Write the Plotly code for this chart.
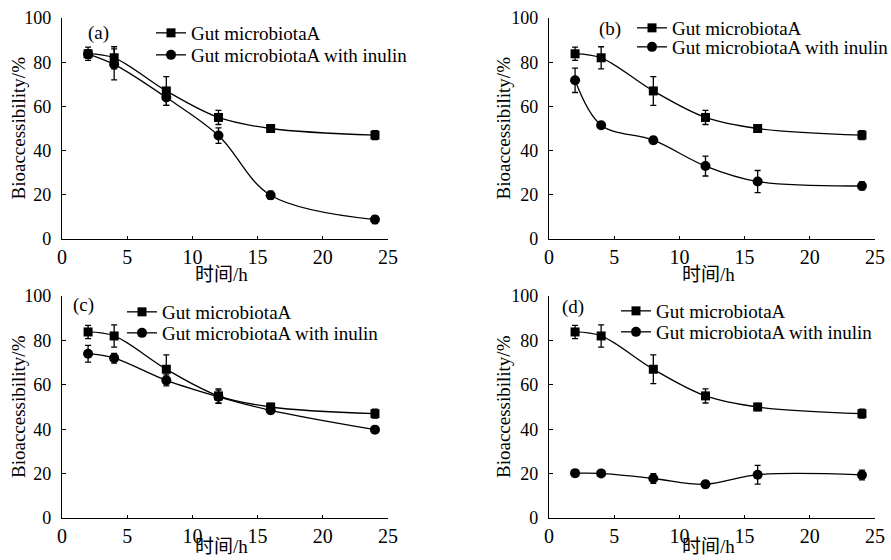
import plotly.graph_objects as go

# ---------------- data ----------------
time_h = [2, 4, 8, 12, 16, 24]

gut_a = [83.8, 82.0, 67.0, 55.0, 50.0, 47.0]
gut_a_err = [3.0, 5.0, 6.5, 3.2, 1.6, 2.0]

inulin_a = [83.7, 79.0, 64.0, 46.8, 19.8, 8.8]
inulin_a_err = [2.0, 7.0, 3.5, 3.5, 1.8, 1.8]

inulin_b = [71.8, 51.5, 44.7, 33.0, 26.0, 24.0]
inulin_b_err = [5.5, 1.5, 1.5, 4.5, 5.0, 1.8]

inulin_c = [74.0, 72.0, 62.0, 54.6, 48.5, 39.8]
inulin_c_err = [3.8, 2.2, 2.5, 3.0, 1.5, 1.5]

inulin_d = [20.2, 20.1, 17.8, 15.2, 19.5, 19.4]
inulin_d_err = [1.6, 1.2, 2.2, 1.6, 4.2, 2.2]

panel_labels = ["(a)", "(b)", "(c)", "(d)"]
inulin_sets = [(inulin_a, inulin_a_err), (inulin_b, inulin_b_err),
               (inulin_c, inulin_c_err), (inulin_d, inulin_d_err)]
name_gut = "Gut microbiotaA"
name_inulin = "Gut microbiotaA with inulin"
x_title = "时间/h"
y_title = "Bioaccessibility/%"
x_ticks = [0, 5, 10, 15, 20, 25]
y_ticks = [0, 20, 40, 60, 80, 100]

# ---------------- layout geometry ----------------
W, H = 891, 560
FONT = "Liberation Serif, 'Times New Roman', 'Noto Sans CJK SC', serif"
FS = 19

# plot areas in pixels: (left, right, top, bottom)
areas = [
    (62, 388, 18, 239),
    (549, 875, 18, 239),
    (62, 388, 296, 518),
    (549, 875, 296, 518),
]
# legend text start (x), row centers (y1, y2)
legend_pos = [(191, 33, 55), (672, 28, 47), (162, 312, 333), (656, 311, 332)]
label_pos = [(98, 33), (610, 29), (83, 305), (573, 307)]
xtitle_y = [274, 274, 546, 546]
ytitle_x = [18, 503, 18, 503]

fig = go.Figure()
layout = dict(
    width=W, height=H,
    margin=dict(l=0, r=0, t=0, b=0, autoexpand=False),
    paper_bgcolor="white", plot_bgcolor="white",
    font=dict(family=FONT, size=FS, color="black"),
    showlegend=True,
)
annotations = []

for i in range(4):
    l, r, t, b = areas[i]
    xa = "xaxis" if i == 0 else f"xaxis{i+1}"
    ya = "yaxis" if i == 0 else f"yaxis{i+1}"
    xref = "x" if i == 0 else f"x{i+1}"
    yref = "y" if i == 0 else f"y{i+1}"
    leg1 = "legend" if i == 0 else f"legend{2*i+1}"
    leg2 = f"legend{2*i+2}"

    layout[xa] = dict(
        domain=[l / W, r / W], anchor=yref, range=[0, 25],
        tickvals=x_ticks, ticks="inside", ticklen=3, tickwidth=1.2,
        tickcolor="black", showline=True, linecolor="black", linewidth=1.3,
        showgrid=False, zeroline=False, mirror=False, automargin=False,
        tickfont=dict(family=FONT, size=20, color="black"),
        ticklabelstandoff=0,
    )
    layout[ya] = dict(
        domain=[1 - b / H, 1 - t / H], anchor=xref, range=[0, 100],
        tickvals=y_ticks, ticks="inside", ticklen=4, tickwidth=1.2,
        tickcolor="black", showline=True, linecolor="black", linewidth=1.3,
        showgrid=False, zeroline=False, mirror=False, automargin=False,
        tickfont=dict(family=FONT, size=18, color="black"),
        ticklabelstandoff=6,
    )
    lx, ly1, ly2 = legend_pos[i]
    for leg, ly in ((leg1, ly1), (leg2, ly2)):
        layout[leg] = dict(
            x=(lx - 40) / W, xanchor="left",
            y=1 - ly / H, yanchor="middle",
            bgcolor="rgba(0,0,0,0)", borderwidth=0,
            font=dict(family=FONT, size=FS, color="black"),
        )

    inul, inul_err = inulin_sets[i]
    fig.add_trace(go.Scatter(
        x=time_h, y=gut_a, name=name_gut, xaxis=xref, yaxis=yref, legend=leg1,
        mode="lines+markers",
        line=dict(color="black", width=1.3, shape="spline", smoothing=1.0),
        marker=dict(symbol="square", size=9, color="black"),
        error_y=dict(type="data", array=gut_a_err, visible=True,
                     color="black", thickness=1.3, width=3),
    ))
    fig.add_trace(go.Scatter(
        x=time_h, y=inul, name=name_inulin, xaxis=xref, yaxis=yref, legend=leg2,
        mode="lines+markers",
        line=dict(color="black", width=1.3, shape="spline", smoothing=1.0),
        marker=dict(symbol="circle", size=10, color="black"),
        error_y=dict(type="data", array=inul_err, visible=True,
                     color="black", thickness=1.3, width=3),
    ))

    px, py = label_pos[i]
    annotations.append(dict(text=panel_labels[i], x=px / W, y=1 - py / H,
                            xref="paper", yref="paper", showarrow=False,
                            xanchor="center", yanchor="middle",
                            font=dict(family=FONT, size=FS, color="black")))
    annotations.append(dict(text=x_title, x=((l + r) / 2 - 4) / W, y=1 - xtitle_y[i] / H,
                            xref="paper", yref="paper", showarrow=False,
                            xanchor="center", yanchor="middle",
                            font=dict(family=FONT, size=FS, color="black")))
    annotations.append(dict(text=y_title, x=ytitle_x[i] / W, y=1 - ((t + b) / 2) / H,
                            xref="paper", yref="paper", showarrow=False,
                            textangle=-90, xanchor="center", yanchor="middle",
                            font=dict(family=FONT, size=FS, color="black")))

layout["annotations"] = annotations
fig.update_layout(**layout)
fig.write_html("out.html",
               config={"displayModeBar": False},
               post_script="document.body.style.margin='0px';document.body.style.overflow='hidden';")
